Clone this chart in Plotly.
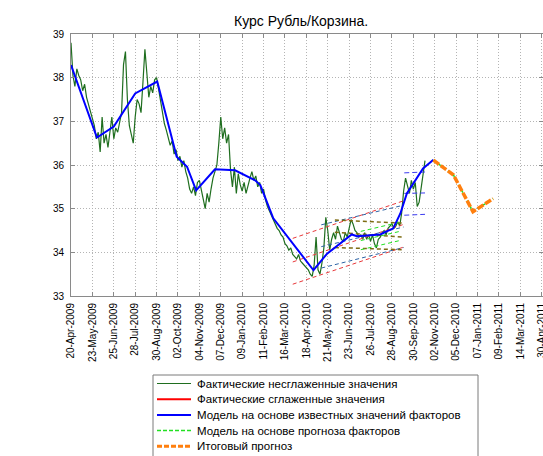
import pandas as pd
import plotly.graph_objects as go

title_text = "Курс Рубль/Корзина."
start_date = pd.Timestamp("2009-04-20")
actual_step_days = 3

# Фактические несглаженные значения (every 3 days from 20-Apr-2009)
actual_values = [
    38.80, 38.05, 37.80, 38.20, 38.05, 37.95, 37.70, 37.85, 37.55, 37.40,
    37.25, 37.10, 36.90, 36.60, 36.75, 36.30, 37.10, 36.50, 36.70, 36.40,
    36.80, 37.10, 36.60, 36.85, 36.75, 37.00, 37.20, 38.30, 38.60, 37.50,
    36.90, 36.70, 36.50, 37.10, 37.50, 37.40, 37.20, 37.90, 38.65, 38.10,
    37.55, 37.80, 37.65, 37.95, 38.00, 37.75, 37.45, 37.20, 36.95, 36.80,
    36.60, 36.45, 36.55, 36.25, 36.35, 36.10, 36.20, 35.95, 36.10, 35.85,
    35.70, 35.45, 35.35, 35.50, 35.30, 35.60, 35.65, 35.45, 35.20, 35.00,
    35.35, 35.15, 35.45, 35.70, 35.85, 36.00, 36.50, 37.10, 36.60, 36.85,
    36.50, 36.70, 35.90, 35.50, 35.95, 35.35, 35.80, 35.55, 35.40, 35.60,
    35.35, 35.55, 35.70, 35.85, 35.65, 35.75, 35.50, 35.60, 35.35, 35.45,
    35.20, 35.05, 34.95, 34.85, 34.75, 34.65, 34.55, 34.50, 34.40, 34.35,
    34.20, 34.15, 34.05, 34.10, 33.95, 33.90, 33.85, 33.95, 33.80, 33.75,
    33.70, 33.65, 33.60, 33.50, 33.45, 33.70, 34.35, 33.60, 33.50, 33.75,
    34.10, 34.80, 34.50, 34.05, 34.30, 34.45, 34.30, 34.60, 34.45, 34.30,
    34.25, 34.45, 34.35, 34.55, 34.75, 34.65, 34.50, 34.45, 34.35, 34.40,
    34.30, 34.45, 34.30, 34.40, 34.25, 34.40, 34.20, 34.10, 34.30, 34.35,
    34.45, 34.50, 34.40, 34.55, 34.60, 34.65, 34.55, 34.60, 34.70, 34.60,
    34.90, 35.40, 35.70, 35.50, 35.35, 35.65, 35.45, 35.60, 35.05, 35.15,
    35.50, 35.85, 36.10,
]

# Модель на основе известных значений факторов (day offsets from start)
model_days = [0, 40, 66, 99, 133, 156, 163, 179, 193, 222, 253, 284, 292,
              312, 338, 374, 395, 433, 441, 477, 497, 508, 518, 528, 543, 559]
model_values = [38.29, 36.63, 36.88, 37.64, 37.91, 36.57, 36.19, 35.96, 35.42,
                35.90, 35.88, 35.65, 35.54, 34.78, 34.28, 33.59, 33.97, 34.41,
                34.37, 34.41, 34.55, 34.89, 35.35, 35.58, 35.92, 36.12]

# Итоговый прогноз / модель на основе прогноза факторов
forecast_days = [559, 590, 620, 651]
forecast_values = [36.11, 35.77, 34.93, 35.23]

# Band lines (start, end)
red_band_days = [342, 513]
red_band_upper = [34.32, 35.18]
red_band_mid = [33.78, 34.64]
red_band_lower = [33.27, 34.12]

steel_band_days = [386, 513]
steel_band_upper = [34.63, 35.08]
steel_band_mid = [34.13, 34.58]
steel_band_lower = [33.64, 34.11]

olive_band_days = [407, 510]
olive_band_upper = [34.74, 34.67]
olive_band_mid = [34.46, 34.35]
olive_band_lower = [34.11, 34.06]

green_band_days = [447, 510]
green_band_upper = [34.48, 34.70]
green_band_mid = [34.27, 34.49]
green_band_lower = [34.06, 34.28]

violet_band_days = [514, 546]
violet_band_upper = [35.82, 35.84]
violet_band_mid = [35.35, 35.36]
violet_band_lower = [34.85, 34.87]

tick_step_days = 33
tick_labels = ["20-Apr-2009", "23-May-2009", "25-Jun-2009", "28-Jul-2009",
               "30-Aug-2009", "02-Oct-2009", "04-Nov-2009", "07-Dec-2009",
               "09-Jan-2010", "11-Feb-2010", "16-Mar-2010", "18-Apr-2010",
               "21-May-2010", "23-Jun-2010", "26-Jul-2010", "28-Aug-2010",
               "30-Sep-2010", "02-Nov-2010", "05-Dec-2010", "07-Jan-2011",
               "09-Feb-2011", "14-Mar-2011", "30-Apr-2011"]
y_ticks = [33, 34, 35, 36, 37, 38, 39]

legend_labels = ["Фактические несглаженные значения",
                 "Фактические сглаженные значения",
                 "Модель на основе известных значений факторов",
                 "Модель на основе прогноза факторов",
                 "Итоговый прогноз"]


def to_dates(days):
    return [start_date + pd.Timedelta(days=d) for d in days]


actual_dates = pd.date_range(start_date, periods=len(actual_values),
                             freq=f"{actual_step_days}D")

fig = go.Figure()

GREEN = "#1f6e1f"
BLUE = "#0000ff"
ORANGE = "#ff7f0e"
LGREEN = "#22e022"

fig.add_trace(go.Scatter(x=actual_dates, y=actual_values, mode="lines",
                         line=dict(color=GREEN, width=1.2), showlegend=False))


def band(days, vals_list, color, dash="4px,3px", width=1):
    for vals in vals_list:
        fig.add_trace(go.Scatter(x=to_dates(days), y=vals, mode="lines",
                                 line=dict(color=color, width=width, dash=dash),
                                 showlegend=False))


band(red_band_days, [red_band_upper, red_band_mid, red_band_lower], "#e8383a")
band(steel_band_days, [steel_band_upper, steel_band_mid, steel_band_lower], "#2e64a6")
band(olive_band_days, [olive_band_upper, olive_band_mid, olive_band_lower], "#7d6b12", width=1.5)
band(green_band_days, [green_band_upper, green_band_mid, green_band_lower], LGREEN)
band(violet_band_days, [violet_band_upper, violet_band_mid, violet_band_lower], "#3c3cf0", dash="5px,3px")

fig.add_trace(go.Scatter(x=to_dates(model_days), y=model_values, mode="lines",
                         line=dict(color=BLUE, width=2), showlegend=False))
fig.add_trace(go.Scatter(x=to_dates(forecast_days), y=forecast_values, mode="lines",
                         line=dict(color=LGREEN, width=1.5, dash="3px,3px"), showlegend=False))
fig.add_trace(go.Scatter(x=to_dates(forecast_days), y=forecast_values, mode="lines",
                         line=dict(color=ORANGE, width=3.5, dash="7px,2px"),
                         showlegend=False))

tick_vals = to_dates([i * tick_step_days for i in range(len(tick_labels))])

W_FIG, H_FIG = 543, 456
L, T, R, B = 71, 34, 0, 160
PW, PH = W_FIG - L - R, H_FIG - T - B


def px_x(px):
    return (px - L) / PW


def px_y(py):
    return (T + PH - py) / PH


AXIS = "#8a8a8a"
GRID = "#b4b4b4"
fig.update_xaxes(type="date", range=[start_date, start_date + pd.Timedelta(days=728)],
                 tickvals=tick_vals, ticktext=tick_labels, tickangle=-90,
                 ticks="inside", ticklen=4, tickcolor=AXIS, showline=True,
                 linecolor=AXIS, linewidth=1, mirror="ticks",
                 showgrid=True, gridcolor=GRID, griddash="1px,2px", gridwidth=1,
                 tickfont=dict(size=10, color="black"), zeroline=False,
                 ticklabelstandoff=2, ticklabeloverflow="allow")
fig.update_yaxes(range=[33, 39], tickvals=y_ticks, ticks="inside", ticklen=4,
                 tickcolor=AXIS, showline=True, linecolor=AXIS, linewidth=1,
                 mirror="ticks", showgrid=True, gridcolor=GRID, griddash="1px,2px",
                 tickfont=dict(size=10, color="black"), zeroline=False,
                 ticklabelstandoff=4)

# manual legend
leg_left, leg_top, leg_right = 153, 375, 478
row0, row_gap = 383.5, 15.7
shapes = [dict(type="rect", xref="paper", yref="paper",
               x0=px_x(leg_left), x1=px_x(leg_right), y0=px_y(leg_top), y1=px_y(H_FIG + 20),
               line=dict(color="#7a7a7a", width=1), fillcolor="white", layer="above")]
legend_styles = [dict(color=GREEN, width=1.2),
                 dict(color="#ff0000", width=2),
                 dict(color=BLUE, width=2),
                 dict(color=LGREEN, width=1.5, dash="4px,2px"),
                 dict(color=ORANGE, width=3, dash="5px,2px")]
annotations = []
for i, (lab, st) in enumerate(zip(legend_labels, legend_styles)):
    yy = px_y(row0 + i * row_gap)
    shapes.append(dict(type="line", xref="paper", yref="paper",
                       x0=px_x(157), x1=px_x(191), y0=yy, y1=yy, line=st, layer="above"))
    annotations.append(dict(text=lab, xref="paper", yref="paper", x=px_x(195), y=yy,
                            xanchor="left", yanchor="middle", showarrow=False,
                            font=dict(size=11.5, color="black")))

annotations.append(dict(text=title_text, xref="paper", yref="paper",
                        x=px_x(301), y=px_y(21), xanchor="center", yanchor="middle",
                        showarrow=False, font=dict(size=14, color="black")))

fig.update_layout(
    width=W_FIG, height=H_FIG,
    margin=dict(l=L, r=R, t=T, b=B, autoexpand=False),
    paper_bgcolor="white", plot_bgcolor="white",
    font=dict(family="Liberation Sans, Arial, sans-serif", color="black"),
    showlegend=False,
    shapes=shapes, annotations=annotations,
)

fig.write_html("out.html", config={"displayModeBar": False},
               post_script="document.body.style.margin='0';document.body.style.overflow='hidden';")
